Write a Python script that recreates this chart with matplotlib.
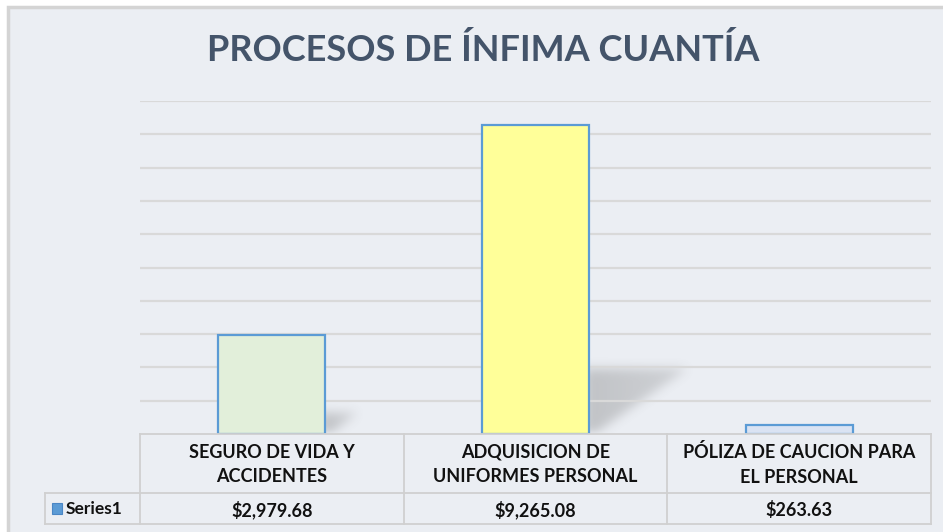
import numpy as np
import matplotlib
matplotlib.use("Agg")
import matplotlib.pyplot as plt
from matplotlib.patches import Rectangle
from matplotlib.lines import Line2D
import matplotlib.transforms as mtransforms

# ---- data ----
title = "PROCESOS DE ÍNFIMA CUANTÍA"
categories = ["SEGURO DE VIDA Y\nACCIDENTES",
              "ADQUISICION DE\nUNIFORMES PERSONAL",
              "PÓLIZA DE CAUCION PARA\nEL PERSONAL"]
values = [2979.68, 9265.08, 263.63]
value_labels = ["$2,979.68", "$9,265.08", "$263.63"]
series_name = "Series1"
bar_colors = ["#E2EFDA", "#FFFF99", "#DAE3F3"]

W, H = 943, 532
DPI = 100
BG = "#EBEEF3"
GRID = "#D9D9D9"
EDGE = "#5B9BD5"
FONT = ["Lato", "DejaVu Sans"]

fig = plt.figure(figsize=(W / DPI, H / DPI), dpi=DPI)
fig.patch.set_facecolor("white")

def fx(px):
    return px / W

def fy(py):
    return 1 - py / H

# chart area background
fig.add_artist(Rectangle((fx(8), fy(600)), fx(1000), fy(7) - fy(600),
                         transform=fig.transFigure, facecolor=BG,
                         edgecolor="#D4D4D4", linewidth=2.5, zorder=0))

# plot axes
ax_l, ax_r, ax_t, ax_b = 140, 931, 101, 434
ax = fig.add_axes([fx(ax_l), fy(ax_b), fx(ax_r - ax_l), fy(ax_t) - fy(ax_b)])
ax.set_facecolor("none")
ax.set_xlim(-0.5, len(categories) - 0.5)
ax.set_ylim(0, 10000)
for s in ax.spines.values():
    s.set_visible(False)
ax.set_xticks([])
ax.set_yticks(np.arange(1000, 10001, 1000))
ax.tick_params(left=False, labelleft=False)
ax.yaxis.grid(True, color=GRID, linewidth=1.6, zorder=1)
ax.set_axisbelow(True)

x = np.arange(len(categories))
bw = 0.405
ax.bar(x, values, width=bw, color=bar_colors, edgecolor=EDGE,
       linewidth=1.6, zorder=3)

# soft shadows behind bars (derived from bar values)
nx, ny = 800, 340
gx = np.linspace(-0.5, len(categories) - 0.5, nx)
gy = np.linspace(0, 10000, ny)
XX, YY = np.meshgrid(gx, gy)
mask = np.zeros_like(XX)
for xi, v in zip(x, values):
    h = 0.22 * v
    if h < 300:
        continue
    x0 = xi + bw / 2
    dx = h * 1.9e-4
    xr = x0 + 0.02 + (dx - 0.02) * (YY / h)
    inside = (XX >= x0 - 0.02) & (YY <= h * 0.96) & (XX <= xr)
    # slight fade towards the far tip
    mask[inside] = 1.0 - 0.35 * ((XX[inside] - x0) / dx)

def box_blur(a, r, axis):
    k = np.ones(2 * r + 1) / (2 * r + 1)
    return np.apply_along_axis(lambda m: np.convolve(m, k, mode="same"), axis, a)

for _ in range(4):
    mask = box_blur(mask, 4, 1)
    mask = box_blur(mask, 4, 0)
rgba = np.zeros((ny, nx, 4))
rgba[..., :3] = 0.38
rgba[..., 3] = np.clip(mask, 0, 1) * 0.30
ax.imshow(rgba, extent=(gx[0], gx[-1], 0, 10000), origin="lower",
          aspect="auto", zorder=0.5, interpolation="bilinear")

# title
fig.text(fx(483), fy(50), title, ha="center", va="center", fontsize=26,
         fontweight="bold", color="#44546A", family=FONT)

# data table
bt = mtransforms.blended_transform_factory(ax.transData, fig.transFigure)
row0_t, row1_t, row1_b = 434, 493, 524
lc = "#D0D0D0"
lw = 1.3
edges = np.arange(len(categories) + 1) - 0.5
fig.add_artist(Line2D([edges[0], edges[-1]], [fy(row0_t)] * 2, transform=bt,
                      color=lc, lw=lw, zorder=2))
fig.add_artist(Line2D([fx(45), fx(ax_r)], [fy(row1_t)] * 2,
                      transform=fig.transFigure, color=lc, lw=lw))
fig.add_artist(Line2D([fx(45), fx(ax_r)], [fy(row1_b)] * 2,
                      transform=fig.transFigure, color=lc, lw=lw))
for e in edges:
    fig.add_artist(Line2D([e, e], [fy(row0_t), fy(row1_b)], transform=bt,
                          color=lc, lw=lw))
fig.add_artist(Line2D([fx(45)] * 2, [fy(row1_t), fy(row1_b)],
                      transform=fig.transFigure, color=lc, lw=lw))

for xi, cat, vl in zip(x, categories, value_labels):
    fig.text(xi, fy((row0_t + row1_t) / 2 + 1), cat, transform=bt,
             ha="center", va="center", fontsize=13, fontweight="bold",
             color="#111111", family=FONT, linespacing=1.55)
    fig.text(xi, fy((row1_t + row1_b) / 2 + 1), vl, transform=bt,
             ha="center", va="center", fontsize=13, fontweight="bold",
             color="#111111", family=FONT)

# legend key
fig.add_artist(Rectangle((fx(52), fy(514)), fx(10), fy(503) - fy(514),
                         transform=fig.transFigure, facecolor=EDGE,
                         edgecolor="#4A86C5", lw=0.8))
fig.text(fx(66), fy(509), series_name, ha="left", va="center", fontsize=12.5,
         fontweight="bold", color="#111111", family=FONT)

fig.savefig("out.png", dpi=DPI)
